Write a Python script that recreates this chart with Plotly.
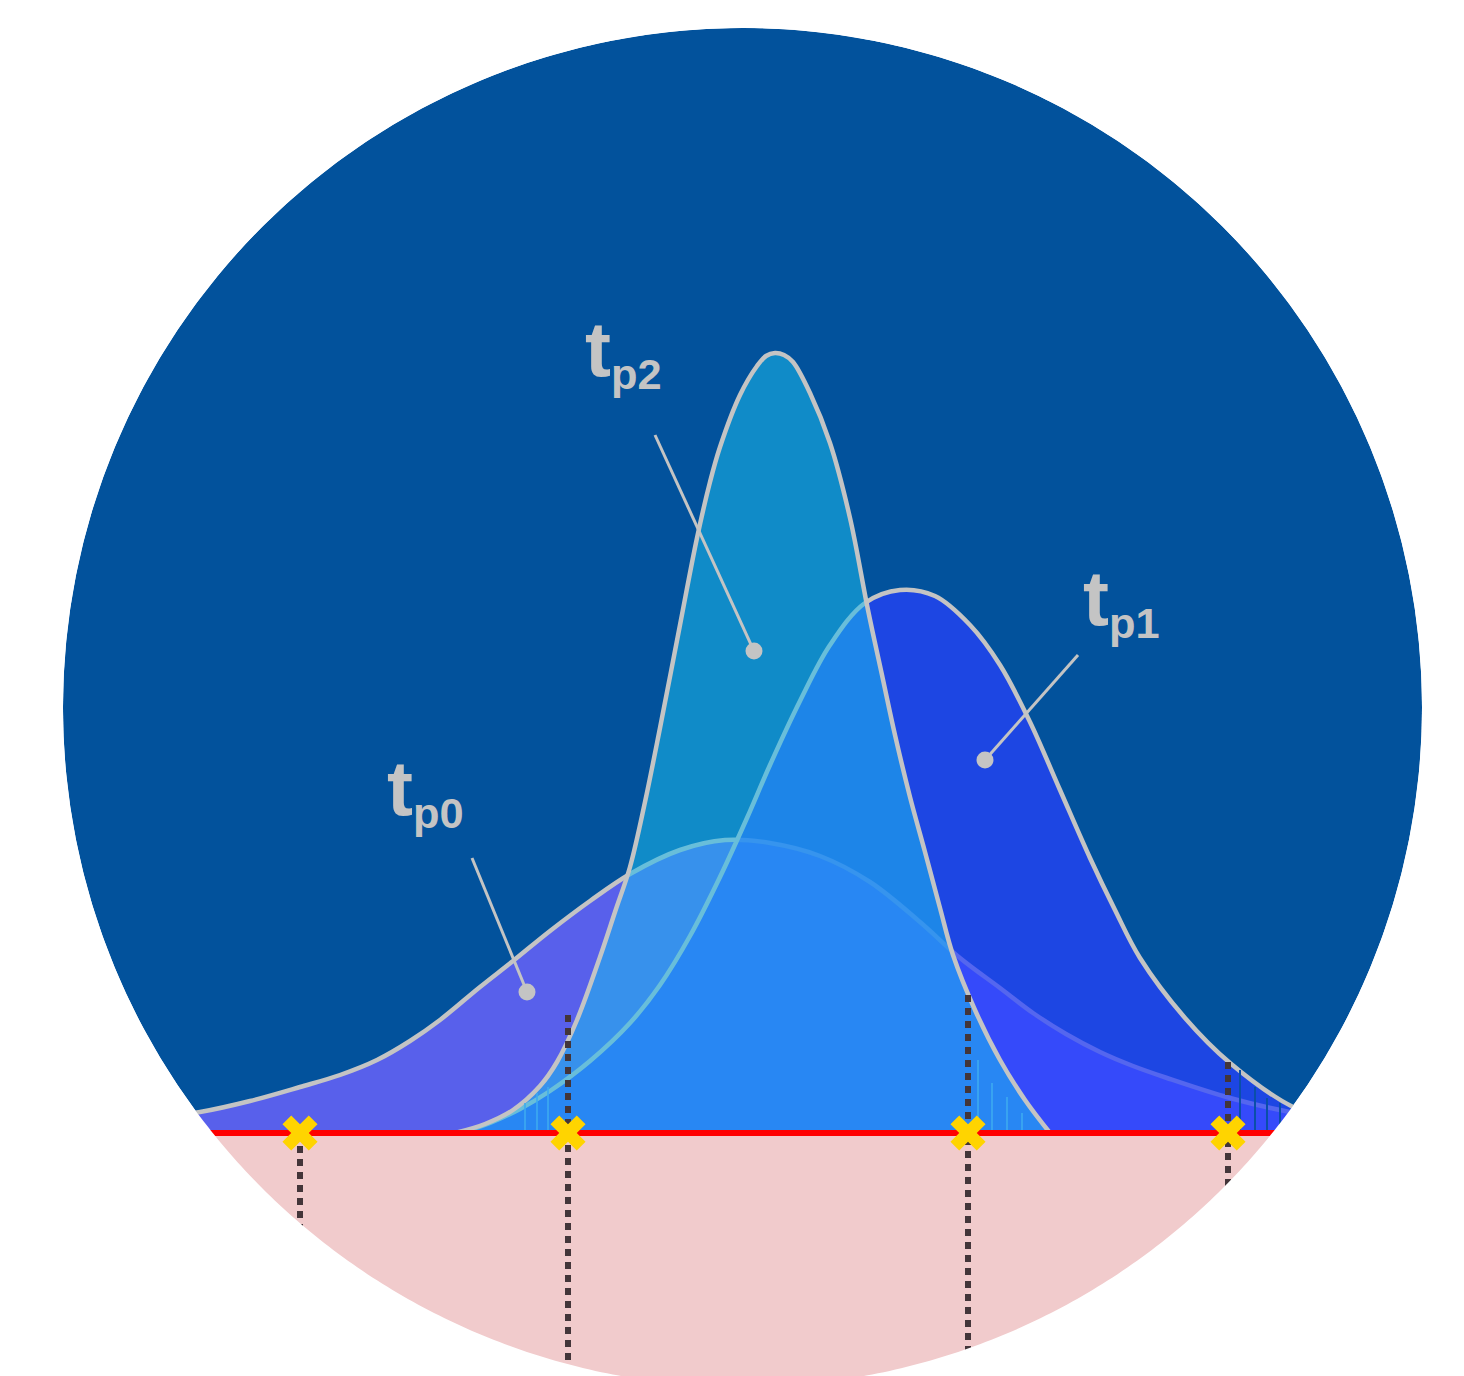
import numpy as np
import plotly.graph_objects as go

##########
# Inputs #
##########

# Three density curves: x position and height above the red baseline
TP0_X = [150, 200, 250, 300, 340, 377, 410, 440, 480, 513, 550, 590, 630, 680, 725, 770,
         820, 870, 920, 960, 1000, 1033, 1066, 1100, 1133, 1167, 1230, 1290, 1350]
TP0_Y = [15, 21, 32, 46, 58, 73, 92, 113, 146, 172, 202, 232, 259, 283, 293, 290,
         277, 251, 211, 175, 145, 120, 99, 81, 67, 55, 35, 21, 12]

TP1_X = [470, 490, 520, 550, 590, 630, 660, 690, 720, 747, 770, 800, 830, 865, 900,
         935, 970, 1000, 1030, 1060, 1090, 1115, 1140, 1185, 1230, 1293, 1350]
TP1_Y = [3, 10, 24, 42, 72, 110, 148, 197, 256, 315, 368, 432, 488, 530, 543,
         537, 508, 468, 411, 343, 275, 223, 175, 115, 70, 26, 7]

TP2_X = [455, 485, 513, 540, 557, 577, 600, 615, 630, 645, 660, 680, 697, 710, 720,
         740, 757, 766, 775, 784, 793, 810, 830, 850, 868, 882, 895, 910, 925, 940,
         953, 975, 1000, 1025, 1050]
TP2_Y = [0, 9, 23, 47, 71, 113, 176, 221, 266, 331, 405, 508, 595, 651, 686,
         738, 767, 777, 780, 778, 771, 740, 690, 615, 523, 458, 398, 336, 281, 225,
         178, 123, 73, 33, 0]

# Crossing points on the baseline and the top of their dotted drop lines
CROSS_X = [300, 568, 968, 1228]
CROSS_TOP = [0, 118, 138, 71]

# Thin stems next to the drop lines
STEM_LIGHT_X = [525, 537, 548, 978, 992, 1007, 1022]
STEM_LIGHT_TOP = [30, 40, 46, 73, 50, 36, 20]
STEM_DARK_X = [1240, 1255, 1267, 1280]
STEM_DARK_TOP = [63, 46, 35, 30]

LABELS = ["p0", "p1", "p2"]

######################
# Maps and constants #
######################

BACKGROUND_COLOUR = "#02529C"
GROUND_COLOUR = "#F1CBCC"
OUTLINE_COLOUR = "#C4C4C4"
TP0_FILL = "rgba(110,100,255,0.8)"
TP1_FILL = "rgba(40,65,255,0.72)"
TP2_FILL = "rgba(29,186,236,0.55)"
DROP_COLOUR = "#433539"
CROSS_COLOUR = "#FFD400"

WIDTH, HEIGHT = 1464, 1376
PAGE_OFFSET = 8                      # default body margin of the html page
BASE_PIX = 1133                      # pixel row of the baseline
CIRCLE_CX, CIRCLE_CY, CIRCLE_R = 742.5, 707.5, 679.5


def h(pix_y):
    return BASE_PIX - pix_y


figure = go.Figure()

# Density curves, drawn in order so later fills tint earlier outlines
for xs, ys, fill in [(TP0_X, TP0_Y, TP0_FILL), (TP1_X, TP1_Y, TP1_FILL), (TP2_X, TP2_Y, TP2_FILL)]:
    figure.add_trace(go.Scatter(
        x=xs, y=ys, mode="lines", fill="tozeroy", fillcolor=fill,
        line=dict(color=OUTLINE_COLOUR, width=4.5, shape="spline", smoothing=1),
        hoverinfo="skip"
    ))

# Stems
for xs, tops, colour in [(STEM_LIGHT_X, STEM_LIGHT_TOP, "rgba(60,170,240,0.8)"),
                         (STEM_DARK_X, STEM_DARK_TOP, "#0A4FA8")]:
    sx, sy = [], []
    for xv, top in zip(xs, tops):
        sx += [xv, xv, None]
        sy += [0, top, None]
    figure.add_trace(go.Scatter(x=sx, y=sy, mode="lines",
                                line=dict(color=colour, width=2), hoverinfo="skip"))

# Dotted drop lines
for xv, top in zip(CROSS_X, CROSS_TOP):
    figure.add_trace(go.Scatter(
        x=[xv, xv], y=[top, -270], mode="lines",
        line=dict(color=DROP_COLOUR, width=6, dash="7px,6px"), hoverinfo="skip"
    ))

# Red baseline
figure.add_trace(go.Scatter(x=[0, WIDTH], y=[0, 0], mode="lines",
                            line=dict(color="#FF0000", width=6), hoverinfo="skip"))

# Yellow crossings
figure.add_trace(go.Scatter(
    x=CROSS_X, y=[0] * len(CROSS_X), mode="markers",
    marker=dict(symbol="x", size=31, color=CROSS_COLOUR, line=dict(width=0)),
    hoverinfo="skip"
))

##########
# Shapes #
##########

shapes = [
    dict(type="circle", xref="x", yref="y", layer="below",
         x0=CIRCLE_CX - CIRCLE_R, x1=CIRCLE_CX + CIRCLE_R,
         y0=h(CIRCLE_CY + CIRCLE_R), y1=h(CIRCLE_CY - CIRCLE_R),
         fillcolor=BACKGROUND_COLOUR, line=dict(width=0)),
    dict(type="rect", xref="x", yref="y", layer="below",
         x0=0, x1=WIDTH + 20, y0=-300, y1=0, fillcolor=GROUND_COLOUR, line=dict(width=0)),
]

# White mask outside the circle
angles = np.linspace(0, -2 * np.pi, 721)
ring = " ".join(
    f"{'M' if i == 0 else 'L'}{CIRCLE_CX + CIRCLE_R * np.cos(a):.2f},{h(CIRCLE_CY) + CIRCLE_R * np.sin(a):.2f}"
    for i, a in enumerate(angles)
)
mask_path = f"M-50,-400 L{WIDTH + 50},-400 L{WIDTH + 50},1300 L-50,1300 Z {ring} Z"
shapes.append(dict(type="path", xref="x", yref="y", layer="above", path=mask_path,
                   fillcolor="white", fillrule="evenodd", line=dict(width=0)))

# Label leaders: (text start) -> (dot)
leaders = [((472, 858), (527, 992)), ((1078, 655), (985, 760)), ((655, 435), (754, 651))]
for (x0, y0), (x1, y1) in leaders:
    shapes.append(dict(type="line", xref="x", yref="y", layer="above",
                       x0=x0, y0=h(y0), x1=x1, y1=h(y1),
                       line=dict(color=OUTLINE_COLOUR, width=3)))
    shapes.append(dict(type="circle", xref="x", yref="y", layer="above",
                       x0=x1 - 8.5, x1=x1 + 8.5, y0=h(y1) - 8.5, y1=h(y1) + 8.5,
                       fillcolor=OUTLINE_COLOUR, line=dict(width=0)))

label_pos = [(385, 742), (1081, 552), (583, 303)]
annotations = [
    dict(x=lx, y=h(ly), xref="x", yref="y", xanchor="left", yanchor="top",
         text=f"<span style='font-size:78px'>t</span><sub>{lab}</sub>",
         showarrow=False,
         font=dict(family="Liberation Sans, Arial", size=62, color=OUTLINE_COLOUR,
                   weight="bold"))
    for lab, (lx, ly) in zip(LABELS, label_pos)
]

figure.update_layout(
    width=WIDTH, height=HEIGHT,
    margin=dict(l=0, r=0, t=0, b=0, pad=0),
    paper_bgcolor="white", plot_bgcolor="white",
    showlegend=False, hovermode=False,
    shapes=shapes, annotations=annotations,
    xaxis=dict(range=[PAGE_OFFSET, WIDTH + PAGE_OFFSET], visible=False, fixedrange=True),
    yaxis=dict(range=[h(HEIGHT + PAGE_OFFSET), h(PAGE_OFFSET)], visible=False, fixedrange=True),
)

figure.write_html("out.html")
